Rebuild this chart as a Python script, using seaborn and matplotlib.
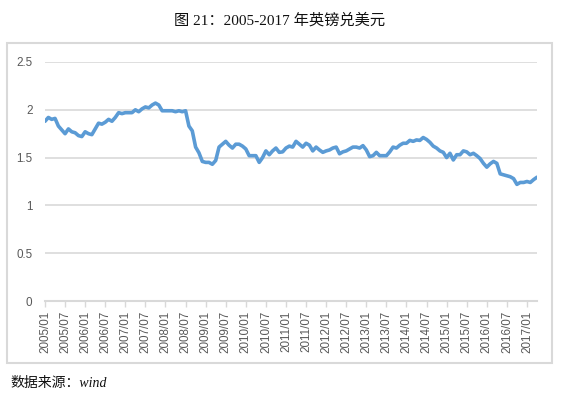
import matplotlib
matplotlib.use("Agg")
import matplotlib.pyplot as plt
import seaborn as sns
import pandas as pd
from matplotlib.patches import Rectangle

# Monthly GBP/USD, 2005/01 .. 2017/04
rates = [
    1.88, 1.92, 1.90, 1.91, 1.83, 1.79, 1.75, 1.80, 1.77, 1.76, 1.73, 1.72,   # 2005
    1.77, 1.75, 1.74, 1.80, 1.86, 1.85, 1.87, 1.90, 1.88, 1.92, 1.97, 1.96,   # 2006
    1.97, 1.97, 1.97, 2.00, 1.98, 2.01, 2.03, 2.02, 2.05, 2.07, 2.05, 1.99,   # 2007
    1.99, 1.99, 1.99, 1.98, 1.99, 1.98, 1.99, 1.83, 1.78, 1.61, 1.55, 1.46,   # 2008
    1.45, 1.45, 1.43, 1.47, 1.61, 1.64, 1.67, 1.63, 1.60, 1.64, 1.64, 1.62,   # 2009
    1.59, 1.52, 1.52, 1.52, 1.45, 1.50, 1.57, 1.53, 1.57, 1.60, 1.555, 1.56,  # 2010
    1.60, 1.62, 1.61, 1.67, 1.64, 1.61, 1.65, 1.63, 1.57, 1.61, 1.58, 1.555,  # 2011
    1.57, 1.58, 1.60, 1.61, 1.54, 1.56, 1.57, 1.59, 1.61, 1.61, 1.60, 1.625,  # 2012
    1.58, 1.51, 1.52, 1.555, 1.52, 1.52, 1.52, 1.56, 1.61, 1.60, 1.63, 1.65, # 2013
    1.65, 1.68, 1.67, 1.685, 1.68, 1.71, 1.69, 1.66, 1.62, 1.60, 1.57, 1.555,# 2014
    1.50, 1.545, 1.475, 1.53, 1.53, 1.57, 1.56, 1.53, 1.545, 1.52, 1.49, 1.44,# 2015
    1.40, 1.435, 1.46, 1.44, 1.33, 1.32, 1.31, 1.30, 1.28, 1.22, 1.24, 1.24,  # 2016
    1.25, 1.24, 1.27, 1.295,                                                  # 2017
]
months = [f"{2005 + i // 12}/{i % 12 + 1:02d}" for i in range(len(rates))]
tick_labels = [m for m in months if m.endswith("/01") or m.endswith("/07")]
y_ticks = [0, 0.5, 1, 1.5, 2, 2.5]
y_labels = ["0", "0.5", "1", "1.5", "2", "2.5"]

df = pd.DataFrame({"idx": range(len(rates)), "month": months, "rate": rates})

sns.set_style("white")
plt.rcParams["font.family"] = ["Liberation Sans", "Noto Sans CJK SC"]

fig = plt.figure(figsize=(5.61, 4.04), dpi=100)
fig.patch.set_facecolor("white")

# outer chart frame
fig.patches.append(Rectangle((7 / 561, 1 - 363 / 404), 545 / 561, 320 / 404,
                             transform=fig.transFigure, fill=False,
                             edgecolor="#d9d9d9", linewidth=1.5, zorder=0))

ax = fig.add_axes([45 / 561, 1 - 301 / 404, 492 / 561, 239 / 404])
sns.lineplot(data=df, x="idx", y="rate", ax=ax, color="#5b9bd5", linewidth=2.6)

ax.set_xlim(0, len(rates) - 1)
ax.set_ylim(0, 2.5)
ax.set_yticks(y_ticks)
ax.set_yticklabels(y_labels)
tick_pos = [months.index(t) for t in tick_labels]
ax.set_xticks(tick_pos)
ax.set_xticklabels(tick_labels, rotation=90)
ax.set_xlabel("")
ax.set_ylabel("")

ax.grid(axis="y", color="#d9d9d9", linewidth=1.2)
ax.set_axisbelow(True)
for s in ["left", "right", "top"]:
    ax.spines[s].set_visible(False)
ax.spines["bottom"].set_color("#d9d9d9")
ax.spines["bottom"].set_linewidth(1.5)
ax.tick_params(axis="x", colors="#595959", labelsize=8.4, length=4, width=1,
               direction="out", color="#d9d9d9", pad=3, bottom=True)
ax.tick_params(axis="y", colors="#595959", labelsize=8.4, length=0, pad=9)

fig.text(280 / 561, 1 - 20 / 404, "图 21：2005-2017 年英镑兑美元",
         ha="center", va="center", fontsize=11, color="#111111",
         family=["Liberation Serif", "Noto Sans CJK SC"])
fig.text(10 / 561, 1 - 383 / 404, "数据来源：wind", ha="left", va="center",
         fontsize=10, style="italic", color="#111111",
         family=["Liberation Serif", "Noto Sans CJK SC"])

fig.savefig("out.png", dpi=100, facecolor="white")
